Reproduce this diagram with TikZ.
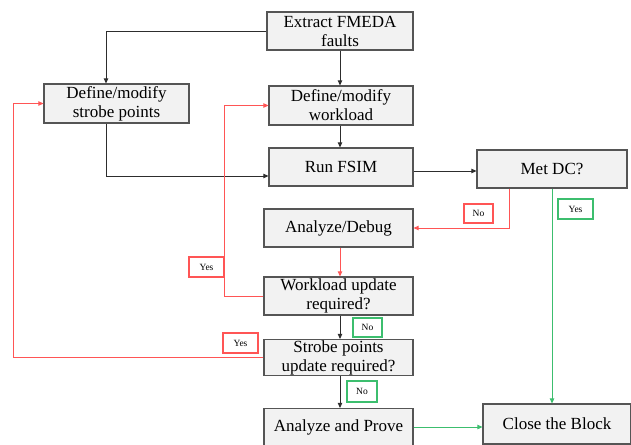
\documentclass[tikz,border=0pt]{standalone}
\usepackage{fontspec}
\setmainfont{Liberation Serif}
\usetikzlibrary{arrows.meta}
\definecolor{boxfill}{RGB}{242,242,242}
\definecolor{boxline}{RGB}{85,85,85}
\definecolor{conline}{RGB}{45,45,45}
\definecolor{redl}{RGB}{255,85,85}
\definecolor{greenl}{RGB}{60,190,110}
\tikzset{
  procbox/.style={draw=boxline, fill=boxfill, line width=1.2pt, align=center,
    inner sep=0pt, font=\fontsize{17}{19}\selectfont},
  lbl/.style={draw, fill=white, line width=1.1pt, inner sep=0pt, align=center,
    font=\fontsize{9.5}{11}\selectfont},
  arr/.style={-{Triangle[length=5pt,width=4.5pt]}, line width=0.9pt},
  blk/.style={arr, draw=conline},
  rd/.style={arr, draw=redl},
  gr/.style={arr, draw=greenl},
}
\begin{document}
\begin{tikzpicture}[x=1pt,y=-1pt]
\useasboundingbox (0,0) rectangle (631,444);
% boxes
\node[procbox, minimum width=146pt, minimum height=38pt] (ext) at (340,31) {Extract FMEDA\\faults};
\node[procbox, minimum width=145pt, minimum height=39pt] (dsp) at (116.5,103.5) {Define/modify\\strobe points};
\node[procbox, minimum width=144pt, minimum height=39pt] (dwl) at (341,105.5) {Define/modify\\workload};
\node[procbox, minimum width=144pt, minimum height=38pt] (fsim) at (341,167) {Run FSIM};
\node[procbox, minimum width=150pt, minimum height=38pt] (met) at (552,169) {Met DC?};
\node[procbox, minimum width=149pt, minimum height=38pt] (dbg) at (338.5,228) {Analyze/Debug};
\node[procbox, minimum width=149pt, minimum height=38pt] (wup) at (338.5,296) {Workload update\\required?};
\node[procbox, minimum width=149pt, minimum height=36pt] (sup) at (338.5,357.5) {Strobe points\\update required?};
\node[procbox, minimum width=149pt, minimum height=37pt] (prove) at (338.5,427) {Analyze and Prove};
\node[procbox, minimum width=148pt, minimum height=40pt] (close) at (557,424) {Close the Block};
% helper coordinates
\coordinate (cx) at (106,0);
\coordinate (cy) at (0,176);
\coordinate (cw) at (224,0);
\coordinate (cs) at (13,0);
\coordinate (cr) at (509,0);
% black connectors
\draw[blk] (ext.west) -| (cx |- dsp.north);
\draw[blk] (ext.south -| 340,0) -- (dwl.north -| 340,0);
\draw[blk] (dwl.south -| 340,0) -- (fsim.north -| 340,0);
\draw[blk] (cx |- dsp.south) -- (cx |- cy) -- (fsim.west |- cy);
\draw[blk] ([yshift=-4pt]fsim.east) -- ([yshift=-4pt]fsim.east -| met.west);
\draw[blk] (wup.south -| 340,0) -- (sup.north -| 340,0);
\draw[blk] (sup.south -| 340,0) -- (prove.north -| 340,0);
% red connectors
\draw[rd] (cr |- met.south) |- (dbg.east);
\draw[rd] (dbg.south -| 340,0) -- (wup.north -| 340,0);
\draw[rd] (wup.west) -- (cw |- wup.west) |- (dwl.west);
\draw[rd] (sup.west) -- (cs |- sup.west) |- (dsp.west);
% green connectors
\draw[gr] (met.south) -- (met.south |- close.north);
\draw[gr] (prove.east) -- (prove.east -| close.west);
% labels
\node[lbl, draw=redl, minimum width=29pt, minimum height=19pt] (l1) at (478.5,213.5) {No};
\node[lbl, draw=greenl, minimum width=35pt, minimum height=20pt] (l2) at (575.5,209) {Yes};
\node[lbl, draw=redl, minimum width=35pt, minimum height=20pt] (l3) at (206.5,267) {Yes};
\node[lbl, draw=greenl, minimum width=29pt, minimum height=19pt] (l4) at (367.5,327.5) {No};
\node[lbl, draw=redl, minimum width=35pt, minimum height=20pt] (l5) at (240.5,343) {Yes};
\node[lbl, draw=greenl, minimum width=30pt, minimum height=21pt] (l6) at (362,391.5) {No};
\end{tikzpicture}
\end{document}
